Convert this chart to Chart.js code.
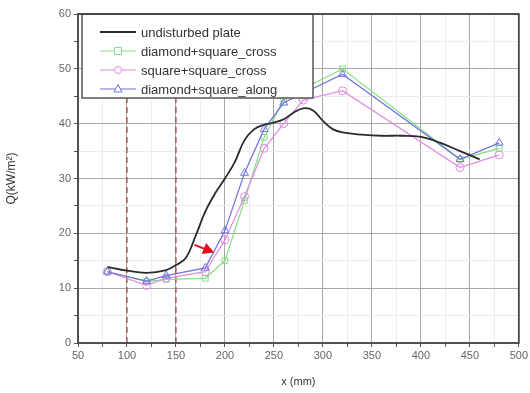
<!DOCTYPE html>
<html><head><meta charset="utf-8">
<script src="https://cdn.jsdelivr.net/npm/chart.js@4"></script>
<style>html,body{margin:0;padding:0;background:#fff}#wrap{width:530px;height:393px}</style>
</head><body><div id="wrap"><canvas id="c" width="530" height="393"></canvas></div>
<script>
// ---- data ----
const plateX = [80,100,120,140,150,160,170,180,190,200,210,220,230,240,250,260,270,280,290,300,310,320,340,360,380,400,420,440,460];
const plateQ = [13.9,13.2,12.8,13.3,14.2,15.5,19.5,24,27.3,30,33,37,39,39.8,40.2,40.8,42,42.8,42.4,40.5,39,38.4,38,37.8,37.8,37.6,36.5,35,33.5];
const crossX = [80,120,140,180,200,220,240,260,320,440,480];
const diamondCrossQ = [13,11.2,11.6,11.8,15,26,37.5,44.5,50,33.5,35.5];
const squareX = [80,120,140,180,200,220,240,260,280,320,440,480];
const squareCrossQ = [13,10.5,11.8,13,18.8,26.7,35.5,40,44.3,46,32,34.3];
const alongX = [80,120,140,180,200,220,240,260,320,440,480];
const diamondAlongQ = [13,11.3,12.3,13.7,20.5,31,39,43.8,49,33.5,36.5];
const dashedX = [100,150];
const arrowTail = [169,17.9];
const arrowHead = [189,16.5];
const seriesNames = ['undisturbed plate','diamond+square_cross','square+square_cross','diamond+square_along'];
const xTicks = [50,100,150,200,250,300,350,400,450,500];
const yTicks = [0,10,20,30,40,50,60];

const pts = (xs, ys) => xs.map((x,i)=>({x, y: ys[i]}));
const datasets = [
  {label: seriesNames[0], data: pts(plateX, plateQ), borderColor:'#2a2a2a', borderWidth:1.8, pointRadius:0, tension:0.4, fill:false, order:0},
  {label: seriesNames[1], data: pts(crossX, diamondCrossQ), borderColor:'#7fe07f', borderWidth:1.2, pointStyle:'rect', pointRadius:4, pointBackgroundColor:'rgba(255,255,255,0)', pointBorderColor:'#7fe07f', pointBorderWidth:1, order:3},
  {label: seriesNames[2], data: pts(squareX, squareCrossQ), borderColor:'#e08ae0', borderWidth:1.2, pointStyle:'circle', pointRadius:4, pointBackgroundColor:'rgba(255,255,255,0)', pointBorderColor:'#e08ae0', pointBorderWidth:1, order:2},
  {label: seriesNames[3], data: pts(alongX, diamondAlongQ), borderColor:'#7070e0', borderWidth:1.2, pointStyle:'triangle', pointRadius:4.5, pointBackgroundColor:'rgba(255,255,255,0)', pointBorderColor:'#7070e0', pointBorderWidth:1, order:1}
];
dashedX.forEach(x => datasets.push({label:'', data:[{x, y:0},{x, y:60}], borderColor:'#b03838', borderWidth:1.2, borderDash:[6,4], pointRadius:0, order:5}));

const frame = {
  id:'frame',
  afterDatasetsDraw(chart){
    const {ctx, chartArea:a, scales} = chart;
    // arrow
    const tx = scales.x.getPixelForValue(arrowTail[0]), ty = scales.y.getPixelForValue(arrowTail[1]);
    const hx = scales.x.getPixelForValue(arrowHead[0]), hy = scales.y.getPixelForValue(arrowHead[1]);
    const ang = Math.atan2(hy-ty, hx-tx);
    ctx.save();
    ctx.strokeStyle = '#e0101a'; ctx.fillStyle = '#e0101a'; ctx.lineWidth = 2;
    ctx.beginPath(); ctx.moveTo(tx,ty); ctx.lineTo(hx - 8*Math.cos(ang), hy - 8*Math.sin(ang)); ctx.stroke();
    ctx.beginPath();
    ctx.moveTo(hx,hy);
    ctx.lineTo(hx - 11*Math.cos(ang) + 6*Math.sin(ang), hy - 11*Math.sin(ang) - 6*Math.cos(ang));
    ctx.lineTo(hx - 11*Math.cos(ang) - 6*Math.sin(ang), hy - 11*Math.sin(ang) + 6*Math.cos(ang));
    ctx.closePath(); ctx.fill();
    // legend box
    const lx = a.left + 4, ly = a.top, lw = 231, lh = 84;
    ctx.fillStyle = '#fff'; ctx.fillRect(lx, ly, lw, lh);
    ctx.strokeStyle = '#555'; ctx.lineWidth = 1.5; ctx.strokeRect(lx, ly, lw, lh);
    ctx.font = '13px "Liberation Sans", Arial, sans-serif';
    ctx.textBaseline = 'middle';
    chart.data.datasets.slice(0,4).forEach((ds,i)=>{
      const y = ly + 18 + i*19;
      ctx.strokeStyle = ds.borderColor; ctx.lineWidth = ds.borderWidth;
      ctx.beginPath(); ctx.moveTo(lx+18, y); ctx.lineTo(lx+54, y); ctx.stroke();
      if (ds.pointRadius) {
        ctx.lineWidth = 1; ctx.strokeStyle = ds.pointBorderColor; ctx.fillStyle='#fff';
        const cx = lx+36, r = 3.5;
        ctx.beginPath();
        if (ds.pointStyle==='rect') ctx.rect(cx-r, y-r, 2*r, 2*r);
        else if (ds.pointStyle==='circle') ctx.arc(cx, y, r, 0, Math.PI*2);
        else { ctx.moveTo(cx, y-r-1); ctx.lineTo(cx+r+0.5, y+r-0.5); ctx.lineTo(cx-r-0.5, y+r-0.5); ctx.closePath(); }
        ctx.fill(); ctx.stroke();
      }
      ctx.fillStyle = '#333';
      ctx.fillText(ds.label, lx+59, y+1);
    });
    // frame
    ctx.strokeStyle = '#444'; ctx.lineWidth = 1.8;
    ctx.strokeRect(a.left, a.top, a.right-a.left, a.bottom-a.top);
    ctx.restore();
  }
};

new Chart(document.getElementById('c'), {
  type:'line',
  data:{datasets},
  options:{
    responsive:false, animation:false,
    layout:{padding:{top:14, right:9, left:0, bottom:0}},
    plugins:{legend:{display:false}, tooltip:{enabled:false}},
    scales:{
      x:{type:'linear', min:50, max:500,
        ticks:{stepSize:25, autoSkip:false, maxRotation:0, color:'#666', font:{size:11, family:'"Liberation Sans", Arial, sans-serif'}, padding:2,
          callback:v => xTicks.includes(v) ? String(v) : ''},
        grid:{color:c => (c.tick && c.tick.value % 50 === 0) ? '#a8a8a8' : '#ececec', tickLength:4, tickColor:'#555'},
        border:{display:false},
        title:{display:true, text:'x (mm)', color:'#333', font:{size:11, family:'"Liberation Sans", Arial, sans-serif'}, padding:{top:4}},
        afterFit:s => { s.height = 50; }
      },
      y:{min:0, max:60,
        ticks:{stepSize:5, autoSkip:false, color:'#666', font:{size:11, family:'"Liberation Sans", Arial, sans-serif'}, padding:3,
          callback:v => yTicks.includes(v) ? String(v) : ''},
        grid:{color:c => (c.tick && c.tick.value % 10 === 0) ? '#a8a8a8' : '#ececec', tickLength:4, tickColor:'#555'},
        border:{display:false},
        title:{display:true, text:'Q(kW/m²)', color:'#333', font:{size:12, family:'"Liberation Sans", Arial, sans-serif'}, padding:{bottom:6}},
        afterFit:s => { s.width = 78; }
      }
    }
  },
  plugins:[frame]
});
</script></body></html>
